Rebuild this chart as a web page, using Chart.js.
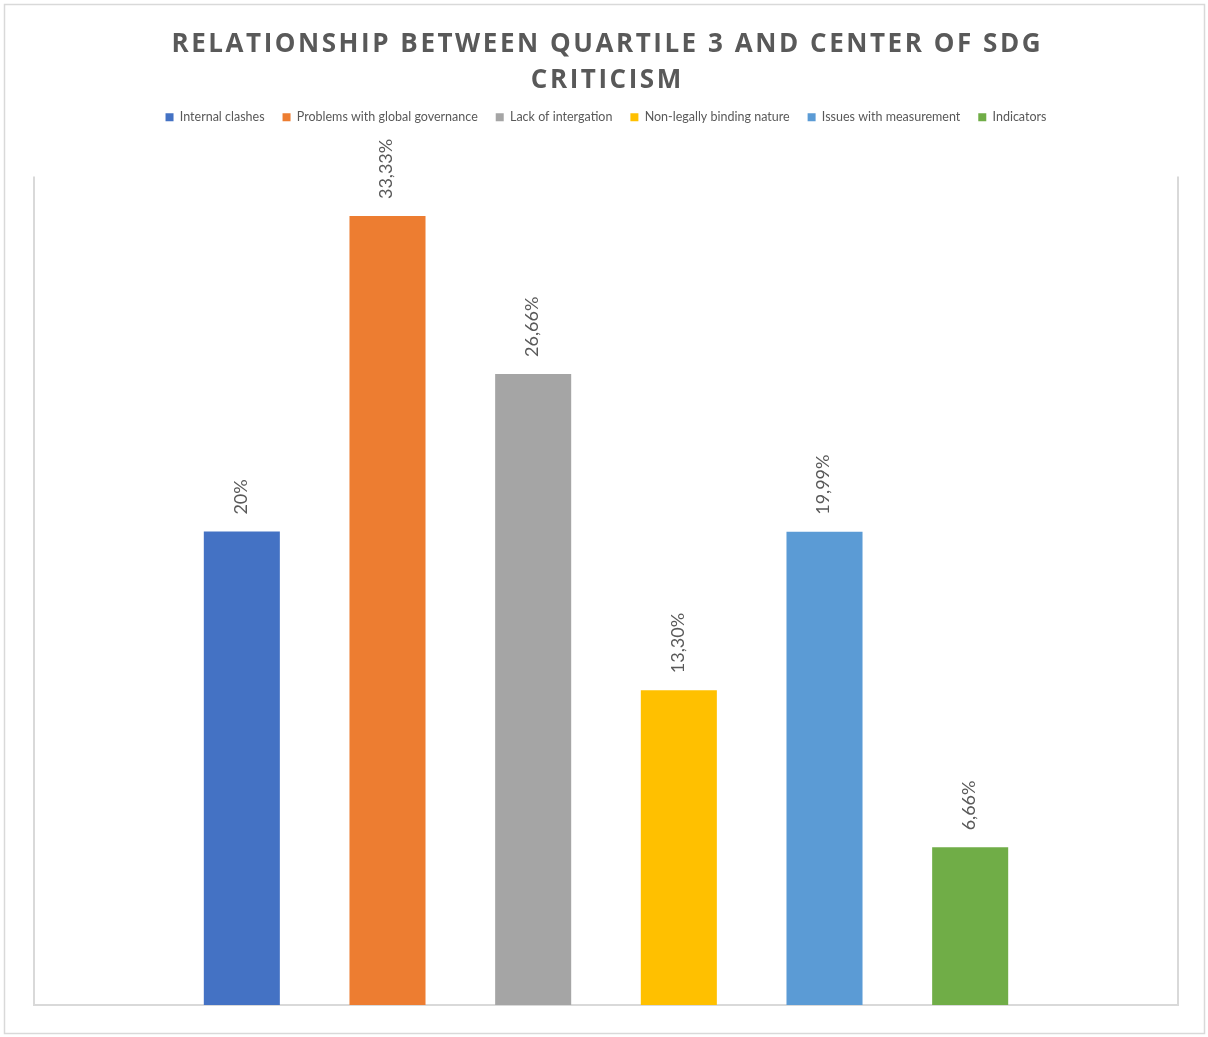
<!DOCTYPE html>
<html>
<head>
<meta charset="utf-8">
<script src="https://cdn.jsdelivr.net/npm/chart.js@4.4.1/dist/chart.umd.min.js"></script>
<style>
  html, body { margin: 0; padding: 0; background: #ffffff; }
  #wrap { width: 1208px; height: 1037px; position: relative; }
</style>
</head>
<body>
<div id="wrap"><canvas id="c"></canvas></div>
<script>
const titleLines = ["RELATIONSHIP BETWEEN QUARTILE 3 AND CENTER OF SDG", "CRITICISM"];
const seriesNames = ["Internal clashes", "Problems with global governance", "Lack of intergation", "Non-legally binding nature", "Issues with measurement", "Indicators"];
const seriesValues = [20, 33.33, 26.66, 13.30, 19.99, 6.66];
const valueLabels = ["20%", "33,33%", "26,66%", "13,30%", "19,99%", "6,66%"];
const seriesColors = ["#4472C4", "#ED7D31", "#A5A5A5", "#FFC000", "#5B9BD5", "#70AD47"];
const yMin = 0, yMax = 35;

const TEXT = "#595959";
const LINE = "#d9d9d9";

const datasets = seriesNames.map((name, i) => ({
  label: name,
  data: [seriesValues[i]],
  backgroundColor: seriesColors[i],
  borderWidth: 0,
  categoryPercentage: 0.764,
  barPercentage: 0.522
}));

const framePlugin = {
  id: 'frame',
  beforeDraw(chart) {
    const ctx = chart.ctx;
    ctx.save();
    ctx.fillStyle = '#ffffff';
    ctx.fillRect(0, 0, chart.width, chart.height);
    ctx.strokeStyle = LINE;
    ctx.lineWidth = 1.5;
    ctx.strokeRect(4.5, 4.5, chart.width - 8, chart.height - 8);
    ctx.restore();
  },
  beforeDatasetsDraw(chart) {
    const {ctx, chartArea: a} = chart;
    ctx.save();
    ctx.strokeStyle = LINE;
    ctx.lineWidth = 2;
    ctx.beginPath();
    ctx.moveTo(a.left, a.top);
    ctx.lineTo(a.left, a.bottom);
    ctx.lineTo(a.right, a.bottom);
    ctx.lineTo(a.right, a.top);
    ctx.stroke();
    ctx.restore();
  },
  afterDatasetsDraw(chart) {
    const ctx = chart.ctx;
    ctx.save();
    ctx.fillStyle = TEXT;
    ctx.font = '18px Lato';
    ctx.textAlign = 'left';
    ctx.textBaseline = 'middle';
    chart.data.datasets.forEach((ds, i) => {
      const meta = chart.getDatasetMeta(i);
      const bar = meta.data[0];
      ctx.save();
      ctx.translate(bar.x - 1, bar.y - 17);
      ctx.rotate(-Math.PI / 2);
      ctx.fillText(valueLabels[i], 0, 0);
      ctx.restore();
    });
    ctx.restore();
  },
  afterDraw(chart) {
    const ctx = chart.ctx;
    ctx.save();
    ctx.fillStyle = TEXT;
    ctx.font = '700 26px "Open Sans"';
    ctx.textBaseline = 'alphabetic';
    ctx.textAlign = 'left';
    ctx.letterSpacing = '0px';
    const raw = ctx.measureText(titleLines[0]).width;
    const ls = Math.max(0, (869 - raw) / (titleLines[0].length - 1));
    ctx.letterSpacing = ls + 'px';
    const cx = 606;
    const baselines = [52, 88];
    titleLines.forEach((t, k) => {
      const w = ctx.measureText(t).width - ls;
      ctx.fillText(t, cx - w / 2, baselines[k]);
    });
    ctx.restore();
  }
};

new Chart(document.getElementById('c'), {
  type: 'bar',
  data: { labels: [''], datasets },
  options: {
    responsive: true,
    maintainAspectRatio: false,
    animation: false,
    devicePixelRatio: 1,
    layout: { padding: { top: 93, left: 34, right: 30, bottom: 32 } },
    scales: {
      x: {
        position: 'top',
        display: true,
        grid: { display: false },
        border: { display: false },
        ticks: { display: false },
        afterFit(scale) { scale.height = 43; }
      },
      y: {
        display: false,
        min: yMin,
        max: yMax
      }
    },
    plugins: {
      title: { display: false },
      tooltip: { enabled: false },
      legend: {
        display: true,
        position: 'top',
        labels: {
          color: TEXT,
          font: { family: 'Lato', size: 12.5 },
          boxWidth: 8,
          boxHeight: 8,
          padding: 18
        }
      }
    }
  },
  plugins: [framePlugin]
});
</script>
</body>
</html>
